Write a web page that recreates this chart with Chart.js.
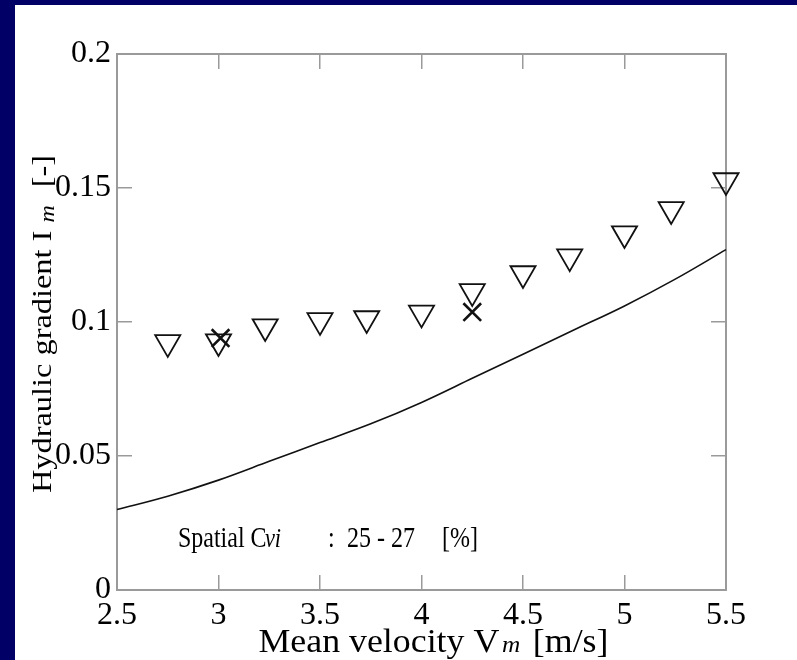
<!DOCTYPE html>
<html><head><meta charset="utf-8">
<script src="https://cdn.jsdelivr.net/npm/chart.js@4/dist/chart.umd.min.js"></script>
<style>
html,body{margin:0;padding:0;background:#000066;overflow:hidden;}
#panel{position:absolute;left:15px;top:5px;width:782px;height:655px;background:#fff;}
#wrap{position:absolute;left:0;top:0;width:797px;height:660px;}
</style></head><body>
<div id="panel"></div>
<div id="wrap"><canvas id="c" width="797" height="660"></canvas></div>
<script>
// ---- data ----
const triVelocity  = [2.75, 3.0, 3.23, 3.5, 3.73, 4.0, 4.25, 4.5, 4.73, 5.0, 5.23, 5.5];
const triGradient  = [0.0924, 0.0927, 0.0983, 0.1006, 0.1013, 0.1034, 0.1114, 0.1181, 0.1244, 0.1330, 0.1420, 0.1528];
const crossVelocity = [3.01, 4.25];
const crossGradient = [0.0940, 0.1037];
const curveVelocity = [2.5, 2.75, 3.0, 3.25, 3.5, 3.75, 4.0, 4.25, 4.5, 4.75, 5.0, 5.25, 5.5];
const curveGradient = [0.030, 0.035, 0.041, 0.048, 0.055, 0.062, 0.070, 0.079, 0.088, 0.097, 0.106, 0.116, 0.127];
const xTickValues = [2.5, 3, 3.5, 4, 4.5, 5, 5.5];
const yTickValues = [0, 0.05, 0.1, 0.15, 0.2];
const xTitle = ['Mean velocity V', 'm', '[m/s]'];
const yTitle = ['Hydraulic gradient I', 'm', '[-]'];
const noteParts = ['Spatial C', 'vi', ':', '25 - 27', '[%]'];
const noteAnchor = {x: 2.8, y: 0.0159};

const toPts = (xs, ys) => xs.map((x, i) => ({x, y: ys[i]}));
const SERIF = '"Liberation Serif", "Times New Roman", serif';
const tickFont = {family: SERIF, size: 32};
const gridCommon = {drawOnChartArea: false, drawTicks: true, tickLength: -15, color: '#9a9a9a', lineWidth: 1.5};
const borderCommon = {display: true, color: '#9a9a9a', width: 2};

const textPlugin = {
  id: 'texts',
  afterDraw(chart) {
    const ctx = chart.ctx;
    const xs = chart.scales.x, ys = chart.scales.y;
    ctx.save();
    ctx.fillStyle = '#000';
    ctx.textBaseline = 'alphabetic';
    ctx.textAlign = 'left';
    // annotation
    const ax = xs.getPixelForValue(noteAnchor.x), ay = ys.getPixelForValue(noteAnchor.y);
    const offs = [0, 87, 150, 169, 264];
    ctx.save();
    ctx.translate(ax, ay);
    ctx.scale(0.8, 1);
    noteParts.forEach((t, i) => {
      ctx.font = (i === 1 ? 'italic 28px ' : '30px ') + SERIF;
      ctx.fillText(t, offs[i] / 0.8, 0);
    });
    ctx.restore();
    // x title
    ctx.save();
    const cx = (chart.chartArea.left + chart.chartArea.right) / 2 + 12;
    ctx.translate(cx, 652);
    ctx.font = '34px ' + SERIF; const w0 = ctx.measureText(xTitle[0] + ' ').width;
    ctx.font = 'italic 24px ' + SERIF; const w1 = ctx.measureText(xTitle[1] + '  ').width;
    ctx.font = '34px ' + SERIF; const w2 = ctx.measureText(xTitle[2]).width;
    const sxx = 350 / (w0 + w1 + w2 - 6);
    ctx.scale(sxx, 1);
    let px = -(w0 + w1 + w2 - 6) / 2;
    ctx.font = '34px ' + SERIF; ctx.fillText(xTitle[0], px, 0); px += w0 - 6;
    ctx.font = 'italic 24px ' + SERIF; ctx.fillText(xTitle[1], px, 0); px += w1;
    ctx.font = '34px ' + SERIF; ctx.fillText(xTitle[2], px, 0);
    ctx.restore();
    // y title
    ctx.save();
    const cy = (chart.chartArea.top + chart.chartArea.bottom) / 2 + 2;
    ctx.translate(51, cy);
    ctx.rotate(-Math.PI / 2);
    ctx.font = '27px ' + SERIF; const v0 = ctx.measureText(yTitle[0] + ' ').width;
    ctx.font = 'italic 20px ' + SERIF; const v1 = ctx.measureText(yTitle[1] + '   ').width;
    ctx.font = '27px ' + SERIF; const v2 = ctx.measureText(yTitle[2]).width;
    const sy = 338 / (v0 + v1 + v2);
    ctx.scale(sy, 1);
    let py = -(v0 + v1 + v2) / 2;
    ctx.font = '27px ' + SERIF; ctx.fillText(yTitle[0], py, 0); py += v0;
    ctx.font = 'italic 20px ' + SERIF; ctx.fillText(yTitle[1], py, 3); py += v1;
    ctx.font = '27px ' + SERIF; ctx.fillText(yTitle[2], py, 0);
    ctx.restore();
    ctx.restore();
  }
};

new Chart(document.getElementById('c'), {
  type: 'scatter',
  data: {
    datasets: [
      {type: 'line', data: toPts(curveVelocity, curveGradient), borderColor: '#111', borderWidth: 1.6,
       pointRadius: 0, fill: false, cubicInterpolationMode: 'monotone', clip: false, xAxisID: 'x', yAxisID: 'y'},
      {data: toPts(triVelocity, triGradient), pointStyle: 'triangle', rotation: 180, pointRadius: 14.5,
       borderColor: '#111', borderWidth: 1.8, backgroundColor: 'rgba(0,0,0,0)', clip: false, xAxisID: 'x', yAxisID: 'y'},
      {data: toPts(crossVelocity, crossGradient), pointStyle: 'crossRot', pointRadius: 12.5,
       borderColor: '#111', borderWidth: 2.6, backgroundColor: 'rgba(0,0,0,0)', clip: false, xAxisID: 'x', yAxisID: 'y'}
    ]
  },
  options: {
    responsive: false, animation: false,
    layout: {padding: {left: 0, top: 54, right: 71, bottom: 0}},
    plugins: {legend: {display: false}, tooltip: {enabled: false}},
    scales: {
      x: {type: 'linear', position: 'bottom', min: 2.5, max: 5.5,
          afterBuildTicks: s => { s.ticks = xTickValues.map(v => ({value: v})); },
          ticks: {font: tickFont, color: '#000', padding: 21, maxRotation: 0, autoSkip: false, callback: v => String(v)},
          grid: gridCommon, border: borderCommon,
          afterFit: s => { s.height = 70; }},
      x2: {type: 'linear', position: 'top', min: 2.5, max: 5.5,
          afterBuildTicks: s => { s.ticks = xTickValues.map(v => ({value: v})); },
          ticks: {display: false}, grid: gridCommon, border: borderCommon,
          afterFit: s => { s.height = 0; }},
      y: {type: 'linear', position: 'left', min: 0, max: 0.2,
          afterBuildTicks: s => { s.ticks = yTickValues.map(v => ({value: v})); },
          ticks: {font: tickFont, color: '#000', padding: 21, autoSkip: false, callback: v => String(+v.toFixed(2))},
          grid: gridCommon, border: borderCommon,
          afterFit: s => { s.width = 117; }},
      y2: {type: 'linear', position: 'right', min: 0, max: 0.2,
          afterBuildTicks: s => { s.ticks = yTickValues.map(v => ({value: v})); },
          ticks: {display: false}, grid: gridCommon, border: borderCommon,
          afterFit: s => { s.width = 0; }}
    }
  },
  plugins: [textPlugin]
});
</script>
</body></html>
